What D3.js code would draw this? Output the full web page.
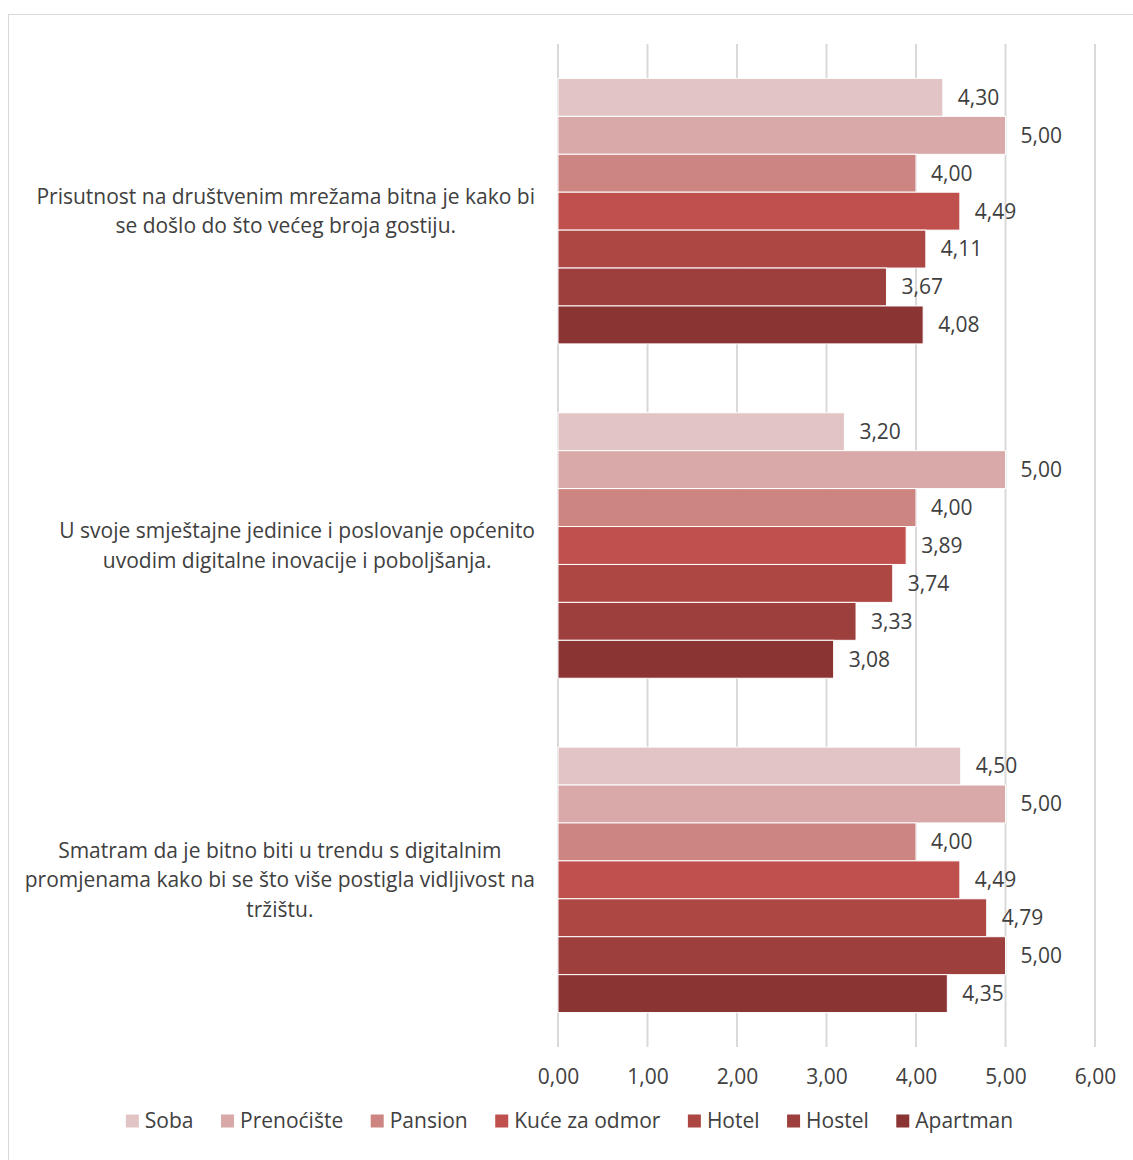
<!DOCTYPE html>
<html><head><meta charset="utf-8">
<script src="https://cdn.jsdelivr.net/npm/d3@7"></script>
<style>body{margin:0;background:#fff;} text{font-family:"Open Sans",sans-serif;fill:#404040;}</style>
</head><body>
<svg id="c" width="1133" height="1160"></svg>
<script>
const categories = [
  ["Prisutnost na društvenim mrežama bitna je kako bi","se došlo do što većeg broja gostiju."],
  ["U svoje smještajne jedinice i poslovanje općenito","uvodim digitalne inovacije i poboljšanja."],
  ["Smatram da je bitno biti u trendu s digitalnim","promjenama kako bi se što više postigla vidljivost na","tržištu."]
];
const series = ["Soba","Prenoćište","Pansion","Kuće za odmor","Hotel","Hostel","Apartman"];
const colors = ["#E2C4C5","#D9A8A8","#CD8582","#C0504D","#AD4744","#9C3F3D","#8A3533"];
const soba = [4.30, 3.20, 4.50];
const prenociste = [5.00, 5.00, 5.00];
const pansion = [4.00, 4.00, 4.00];
const kuce = [4.49, 3.89, 4.49];
const hotel = [4.11, 3.74, 4.79];
const hostel = [3.67, 3.33, 5.00];
const apartman = [4.08, 3.08, 4.35];
const tickValues = [0,1,2,3,4,5,6];

const values = [soba, prenociste, pansion, kuce, hotel, hostel, apartman];
const svg = d3.select("#c");
const fmt = v => d3.format(".2f")(v).replace(".", ",");
const FS = 21;

// outer frame
svg.append("rect").attr("x",8.5).attr("y",14.5).attr("width",1140).attr("height",1160)
  .attr("fill","none").attr("stroke","#D9D9D9").attr("stroke-width",1);

const x = d3.scaleLinear().domain([0,6]).range([558,1095]);
const y0 = d3.scaleBand().domain(d3.range(categories.length)).range([44,1047]).paddingInner(0.206).paddingOuter(0.103);
const y1 = d3.scaleBand().domain(d3.range(series.length)).range([0, y0.bandwidth()]);

// gridlines
svg.append("g").selectAll("line").data(tickValues).join("line")
  .attr("x1",d=>x(d)).attr("x2",d=>x(d)).attr("y1",44).attr("y2",1047)
  .attr("stroke","#D9D9D9").attr("stroke-width",2);

// tick labels
const ax = d3.axisBottom(x).tickValues(tickValues).tickFormat(fmt).tickSize(0).tickPadding(0);
const axg = svg.append("g").attr("transform","translate(0,1069)").call(ax);
axg.select(".domain").remove();
axg.selectAll("text").attr("font-size",FS).style("font-family","Open Sans").attr("fill","#595959").attr("dy","0.71em");

// bars
categories.forEach((cat, ci) => {
  const g = svg.append("g").attr("transform",`translate(0,${y0(ci)})`);
  g.selectAll("rect").data(series).join("rect")
    .attr("x",x(0)).attr("y",(d,si)=>y1(si))
    .attr("width",(d,si)=>x(values[si][ci])-x(0))
    .attr("height",y1.bandwidth())
    .attr("fill",(d,si)=>colors[si])
    .attr("stroke","#fff").attr("stroke-width",1);
  g.selectAll("text").data(series).join("text")
    .attr("x",(d,si)=>x(values[si][ci])+15)
    .attr("y",(d,si)=>y1(si)+y1.bandwidth()/2)
    .attr("dy","0.35em").attr("font-size",FS).attr("fill","#404040")
    .text((d,si)=>fmt(values[si][ci]));

  // category label
  const lh = 29.5;
  const cy = y0(ci) + y0.bandwidth()/2;
  const t = svg.append("text").attr("font-size",FS).attr("fill","#404040").attr("text-anchor","middle");
  const lines = cat.map((l,i)=>t.append("tspan").attr("y", cy + (i-(cat.length-1)/2)*lh).attr("dy","0.35em").text(l));
  let maxW = 0;
  lines.forEach(s=>{maxW=Math.max(maxW,s.node().getComputedTextLength());});
  lines.forEach(s=>s.attr("x", 535 - maxW/2));
});

// legend
const GAP = 27.5;
const lg = svg.append("g");
const items = lg.selectAll("g").data(series).join("g");
items.append("rect").attr("width",13).attr("height",13).attr("y",-6.5).attr("fill",(d,i)=>colors[i]);
items.append("text").attr("x",19).attr("dy","0.35em").attr("font-size",FS).attr("fill","#595959").text(d=>d);
let pos = 0; const xs=[];
items.each(function(){ xs.push(pos); pos += 19 + this.querySelector("text").getComputedTextLength() + GAP; });
const total = pos - GAP;
const startX = 569.5 - total/2;
items.attr("transform",(d,i)=>`translate(${startX+xs[i]},1121)`);
</script>
</body></html>
